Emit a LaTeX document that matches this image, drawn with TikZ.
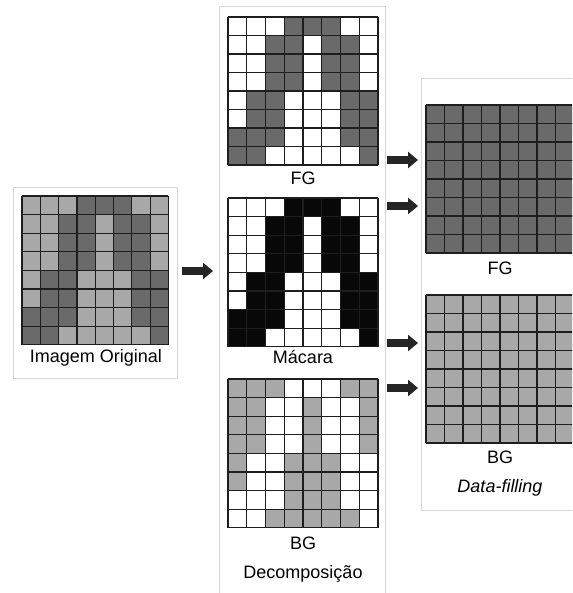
\documentclass[tikz,border=0pt]{standalone}
\usepackage{fontspec}
\setmainfont{Liberation Sans}
\usetikzlibrary{arrows.meta}
\definecolor{darkcell}{HTML}{6A6A6A}
\definecolor{lightcell}{HTML}{A8A8A8}
\definecolor{maskblack}{HTML}{080808}
\definecolor{panelline}{HTML}{D6D6D6}
\definecolor{gridcol}{HTML}{1E1E1E}
\definecolor{arrowcol}{HTML}{252525}
\def\maskpat{{0,0,0,1,1,1,0,0},{0,0,1,1,0,1,1,0},{0,0,1,1,0,1,1,0},{0,0,1,1,0,1,1,0},{0,1,1,0,0,0,1,1},{0,1,1,0,0,0,1,1},{1,1,1,0,0,0,1,1},{1,1,0,0,0,0,0,1}}
\newcommand\pixgrid[4]{%
  \foreach \rowlist [count=\r] in \maskpat {
    \foreach \v [count=\c] in \rowlist {
      \ifnum\v=1
        \fill[cone] ({#1+(\c-1)*#3},{#2+(\r-1)*#4}) rectangle ++(#3,#4);
      \else
        \fill[czero] ({#1+(\c-1)*#3},{#2+(\r-1)*#4}) rectangle ++(#3,#4);
      \fi
    }
  }
  \foreach \i in {0,...,8} {
    \draw[gridline] ({#1+\i*#3},#2) -- ++(0,{8*#4});
    \draw[gridline] (#1,{#2+\i*#4}) -- ++({8*#3},0);
  }
}
\begin{document}
\begin{tikzpicture}[x=1pt,y=-1pt,
  gridline/.style={draw=gridcol,line width=1.2pt},
  panel/.style={draw=panelline,line width=0.8pt},
  lbl/.style={font=\fontsize{18}{21}\selectfont,text=black,inner sep=0pt,anchor=center},
  bigarrow/.style={draw=arrowcol,line width=7.5pt,-{Triangle[length=10pt,width=16pt]},shorten >=-1pt}]
\useasboundingbox (0,0) rectangle (572,593);
\clip (0,0) rectangle (572,593);
\fill[white] (0,0) rectangle (572,593);
% panels
\draw[panel] (13,187) rectangle (177,378);
\draw[panel] (219,6) rectangle (385,610);
\draw[panel] (421,78) rectangle (590,510);
% original
\begin{scope}[cone/.style={fill=darkcell},czero/.style={fill=lightcell}]
\pixgrid{22}{196}{18.3}{18.6}
\end{scope}
% FG decomposed
\begin{scope}[cone/.style={fill=darkcell},czero/.style={fill=white}]
\pixgrid{228}{17}{18.75}{18.5}
\end{scope}
% mask
\begin{scope}[cone/.style={fill=maskblack},czero/.style={fill=white}]
\pixgrid{228}{198}{18.75}{18.6}
\end{scope}
% BG decomposed
\begin{scope}[cone/.style={fill=white},czero/.style={fill=lightcell}]
\pixgrid{228}{379}{18.75}{18.6}
\end{scope}
% right FG
\begin{scope}[cone/.style={fill=darkcell},czero/.style={fill=darkcell}]
\pixgrid{426}{105}{18.5}{18.5}
\end{scope}
% right BG
\begin{scope}[cone/.style={fill=lightcell},czero/.style={fill=lightcell}]
\pixgrid{426}{295}{18.5}{18.5}
\end{scope}
% labels
\node[lbl] (orig) at (96,358) {Imagem Original};
\node[lbl] (fg) at (303,178) {FG};
\node[lbl] (mask) at (303,357) {Mácara};
\node[lbl] (bg) at (303,543) {BG};
\node[lbl] (dec) at (303,574) {Decomposição};
\node[lbl] (rfg) at (500,268) {FG};
\node[lbl] (rbg) at (500,457) {BG};
\node[lbl] (df) at (500,488) {\itshape Data-filling};
% arrows
\coordinate (a0s) at (182,271); \coordinate (a0e) at (212,271);
\coordinate (a1s) at (387,160); \coordinate (a1e) at (417,160);
\coordinate (a2s) at (387,206); \coordinate (a2e) at (417,206);
\coordinate (a3s) at (387,343); \coordinate (a3e) at (417,343);
\coordinate (a4s) at (387,388); \coordinate (a4e) at (417,388);
\foreach \k in {0,...,4} \draw[bigarrow] (a\k s) -- (a\k e);
\end{tikzpicture}
\end{document}
